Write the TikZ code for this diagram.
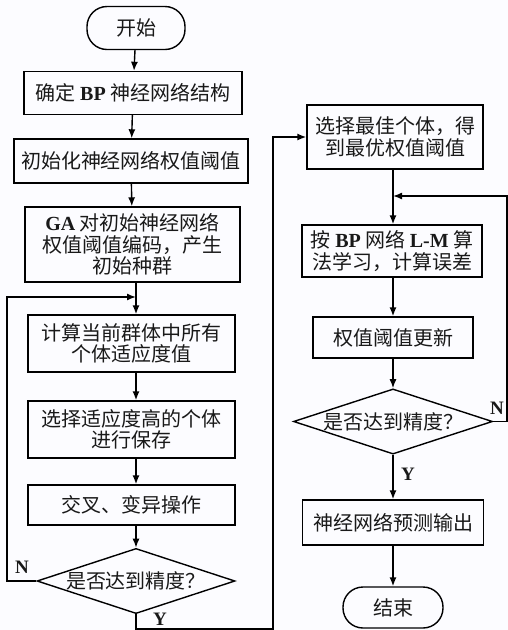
\documentclass[tikz,border=0pt]{standalone}
\usepackage{fontspec}
\setmainfont{Noto Sans CJK SC}
\newfontfamily\lat{Liberation Serif}
\usetikzlibrary{shapes.geometric,arrows.meta}
\begin{document}
\begin{tikzpicture}[x=1pt,y=-1pt,
  line width=1.4pt,
  every node/.style={font=\fontsize{20}{21.5}\selectfont, text=black!90},
  box/.style={draw, rectangle, align=center, inner sep=0pt},
  term/.style={draw, rectangle, rounded corners=20pt, inner sep=0pt},
  dia/.style={draw, diamond, aspect=3, inner sep=0pt, minimum width=198pt, minimum height=64pt},
  flow/.style={-{Latex[length=9pt,width=7pt]}},
  lbl/.style={font=\lat\bfseries\fontsize{19}{20}\selectfont}
]
\fill[white!97!blue!40] (0,0) rectangle (508,630);
\useasboundingbox (0,0) rectangle (508,630);

% left column
\node[term, minimum width=98pt, minimum height=43pt] (start) at (136,28) {开始};
\node[box, minimum width=218pt, minimum height=43pt] (b1) at (133,93) {确定 {\lat\bfseries BP} 神经网络结构};
\node[box, minimum width=234pt, minimum height=44pt] (b2) at (131,161) {初始化神经网络权值阈值};
\node[box, minimum width=215pt, minimum height=75pt] (b3) at (132.5,244.5) {{\lat\bfseries GA} 对初始神经网络\\权值阈值编码，产生\\初始种群};
\node[box, minimum width=207pt, minimum height=57pt] (b4) at (131.5,343.5) {计算当前群体中所有\\个体适应度值};
\node[box, minimum width=207pt, minimum height=57pt] (b5) at (131.5,429.5) {选择适应度高的个体\\进行保存};
\node[box, minimum width=207pt, minimum height=40pt] (b6) at (131.5,505) {交叉、变异操作};
\node[dia] (d1) at (136,581) {是否达到精度？};

% right column
\node[box, minimum width=176pt, minimum height=64pt] (b7) at (395,137) {选择最佳个体，得\\到最优权值阈值};
\node[box, minimum width=180pt, minimum height=52pt] (b8) at (392,251) {按 {\lat\bfseries BP} 网络 {\lat\bfseries L-M} 算\\法学习，计算误差};
\node[box, minimum width=160pt, minimum height=41pt] (b9) at (393,337.5) {权值阈值更新};
\node[dia, minimum width=199pt, minimum height=63pt] (d2) at (393,421.5) {是否达到精度？};
\node[box, minimum width=181pt, minimum height=45pt] (b10) at (393,522.5) {神经网络预测输出};
\node[term, minimum width=100pt, minimum height=41pt] (end) at (393,607.5) {结束};

% helper coordinates
\coordinate (j1) at (136,297);
\coordinate (l1) at (7,581);
\coordinate (l2) at (7,297);
\coordinate (m1) at (136,629);
\coordinate (m2) at (273,629);
\coordinate (m3) at (273,137);
\coordinate (r1) at (507,421.5);
\coordinate (r2) at (507,196);
\coordinate (j2) at (393,196);

% left flow
\draw[flow] (start) -- (b1);
\draw[flow] (b1) -- (b2);
\draw[flow] (b2) -- (b3);
\draw[flow] (b3.south -| j1) -- (b4.north -| j1);
\draw[flow] (b4.south -| j1) -- (b5.north -| j1);
\draw[flow] (b5.south -| j1) -- (b6.north -| j1);
\draw[flow] (b6.south -| j1) -- (d1.north);
\draw[flow] (d1.west) -- (l1) -- (l2) -- (j1);
\draw[flow] (d1.south) -- (m1) -- (m2) -- (m3) -- (b7.west);

% right flow
\draw[flow] (b7.south -| j2) -- (b8.north -| j2);
\draw[flow] (b8.south -| j2) -- (b9.north -| j2);
\draw[flow] (b9) -- (d2);
\draw[flow] (d2) -- (b10);
\draw[flow] (b10) -- (end);
\draw[flow] (d2.east) -- (r1) -- (r2) -- (j2);

% labels
\node[lbl] (n1) at (22,567) {N};
\node[lbl] (y1) at (160,619) {Y};
\node[lbl] (n2) at (497,408) {N};
\node[lbl] (y2) at (408,474) {Y};
\end{tikzpicture}
\end{document}
